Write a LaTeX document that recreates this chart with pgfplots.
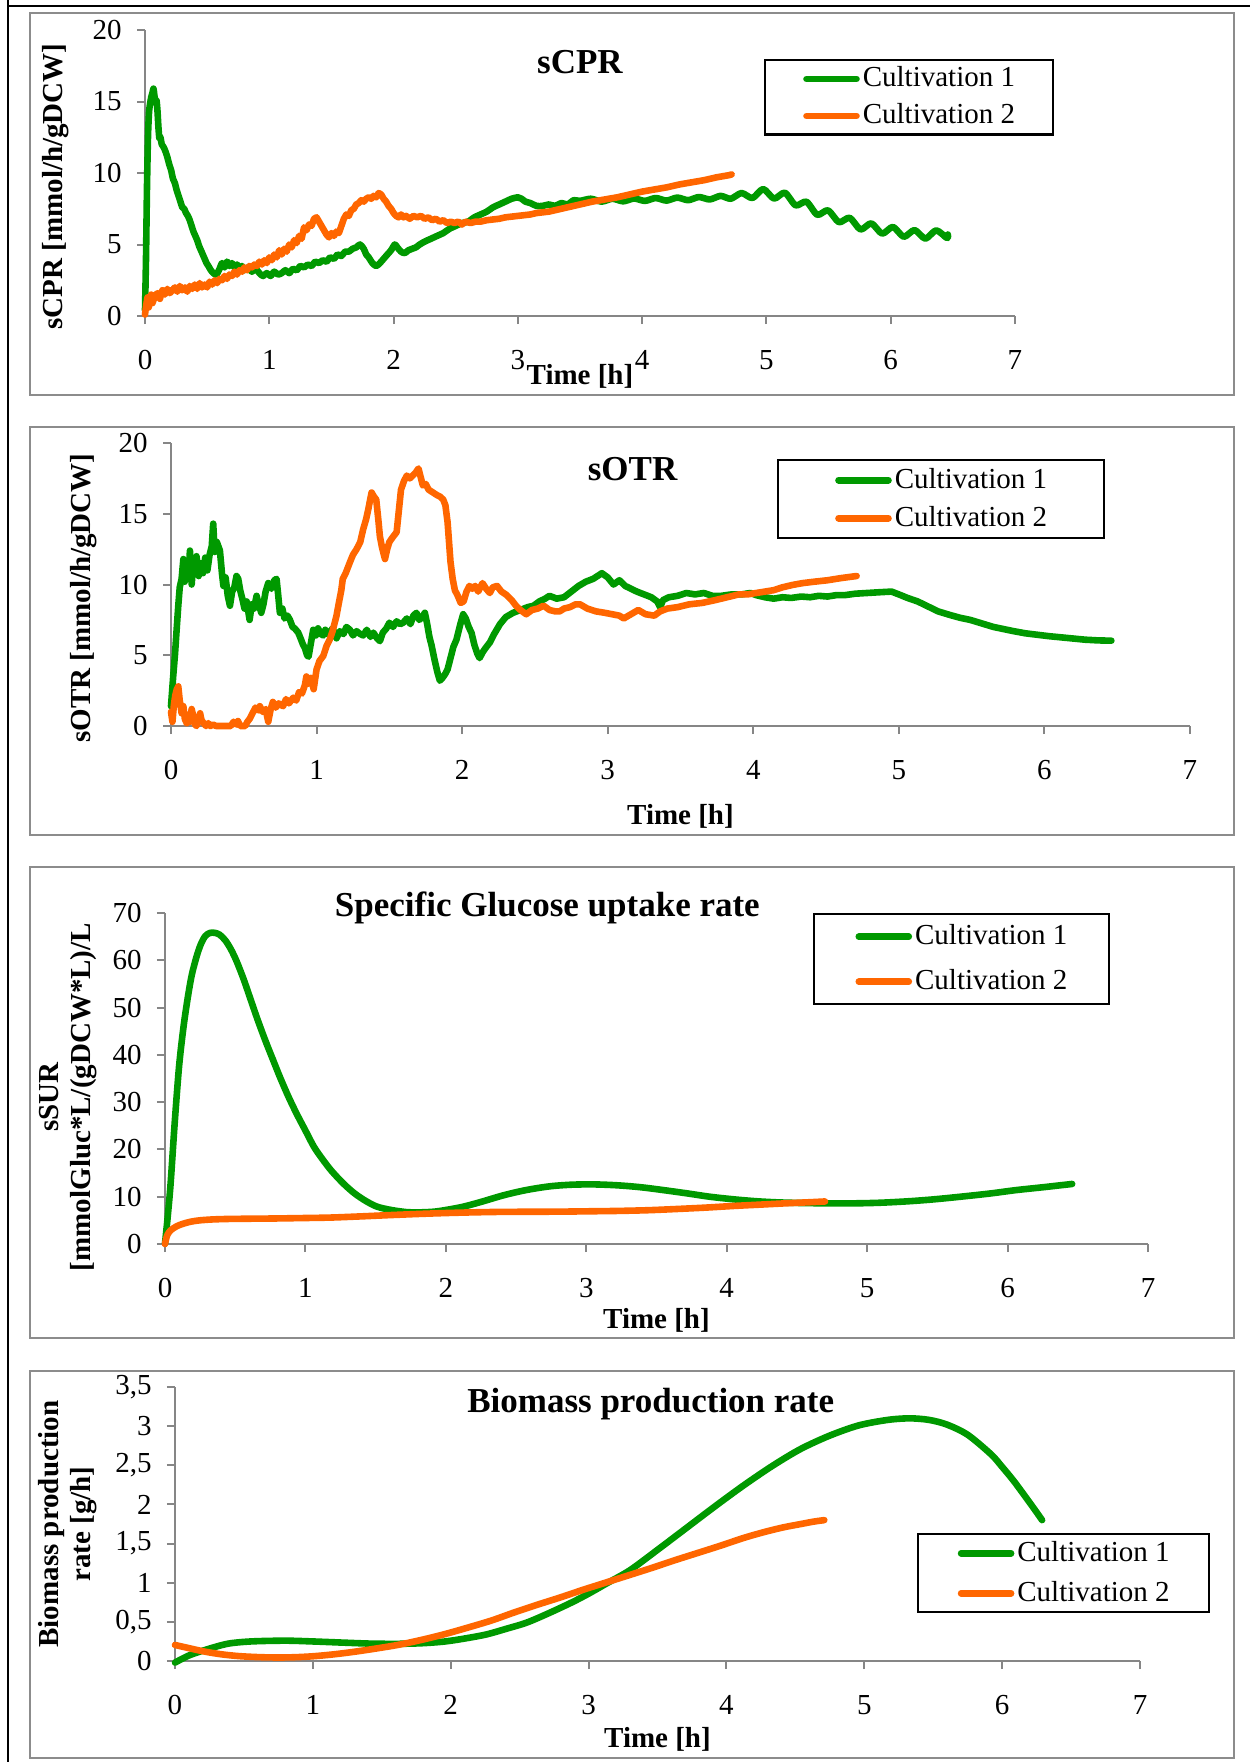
\documentclass[border=0pt]{standalone}
\usepackage{fontspec}
\setmainfont{Liberation Serif}
\usepackage{pgfplots}
\usepackage{pgfplotstable}
\pgfplotsset{compat=1.18}

\definecolor{cgreen}{RGB}{0,153,0}
\definecolor{corange}{RGB}{255,102,0}
\definecolor{axgray}{RGB}{134,134,134}
\definecolor{framegray}{RGB}{140,140,140}

\newcommand\tickfont{\fontsize{14.5bp}{17bp}\selectfont}
\newcommand\labfont{\fontsize{14.5bp}{16bp}\selectfont\bfseries}
\newcommand\ttlfont{\fontsize{17.5bp}{20bp}\selectfont\bfseries}

% ---------- sCPR ----------
\pgfplotstableread{
t v
0.000 0.4
0.008 4.0
0.016 9.0
0.024 12.5
0.032 14.2
0.040 14.8
0.050 15.3
0.060 15.6
0.068 15.9
0.076 15.4
0.084 14.9
0.092 15.1
0.100 14.4
0.108 13.2
0.116 12.4
0.124 12.5
0.135 12.0
0.150 11.8
0.165 11.5
0.180 11.1
0.195 10.6
0.210 10.2
0.225 9.6
0.240 9.3
0.255 8.8
0.270 8.4
0.285 8.0
0.300 7.6
0.315 7.5
0.330 7.2
0.345 7.0
0.360 6.7
0.375 6.3
0.390 5.9
0.405 5.6
0.420 5.3
0.435 4.9
0.450 4.6
0.465 4.3
0.480 4.0
0.495 3.7
0.510 3.5
0.530 3.2
0.550 3.0
0.575 2.9
0.600 3.3
0.620 3.7
0.640 3.4
0.660 3.8
0.680 3.5
0.700 3.7
0.720 3.4
0.740 3.6
0.760 3.3
0.780 3.5
0.800 3.2
0.830 3.4
0.860 3.1
0.890 3.3
0.920 3.0
0.950 2.8
0.980 3.0
1.010 2.8
1.040 3.1
1.070 2.9
1.100 3.0
1.130 3.2
1.160 3.0
1.190 3.3
1.220 3.2
1.250 3.5
1.280 3.4
1.310 3.6
1.340 3.5
1.370 3.8
1.400 3.7
1.430 3.9
1.460 3.8
1.490 4.1
1.520 4.0
1.550 4.3
1.580 4.2
1.610 4.5
1.640 4.5
1.670 4.7
1.700 4.8
1.730 5.0
1.760 4.7
1.780 4.3
1.800 4.1
1.830 3.7
1.860 3.5
1.890 3.7
1.920 4.0
1.950 4.3
1.980 4.6
2.010 5.0
2.030 4.8
2.060 4.5
2.090 4.4
2.120 4.6
2.150 4.7
2.180 4.8
2.210 5.0
2.250 5.2
2.300 5.4
2.350 5.6
2.400 5.8
2.450 6.1
2.500 6.3
2.550 6.5
2.600 6.6
2.650 6.9
2.700 7.1
2.750 7.3
2.800 7.6
2.850 7.8
2.900 8.0
2.950 8.2
3.000 8.3
3.030 8.2
3.060 8.0
3.100 7.9
3.150 7.7
3.200 7.7
3.250 7.8
3.300 7.7
3.350 7.9
3.400 7.8
3.450 8.1
3.500 8.05
3.587 8.2
3.674 8.0
3.761 8.2
3.848 8.02
3.935 8.22
4.022 8.05
4.109 8.25
4.196 8.07
4.283 8.28
4.370 8.1
4.457 8.32
4.544 8.15
4.631 8.4
4.713 8.20
4.800 8.60
4.887 8.25
4.974 8.88
5.061 8.21
5.148 8.62
5.235 7.74
5.322 7.99
5.409 7.08
5.496 7.39
5.583 6.56
5.670 6.87
5.757 6.05
5.844 6.48
5.931 5.76
6.018 6.23
6.105 5.54
6.192 6.01
6.279 5.41
6.366 5.99
6.453 5.45
6.460 5.70
}\cprA

\pgfplotstableread{
t v
0.000 0.1
0.010 0.8
0.020 1.3
0.030 0.6
0.040 1.2
0.050 1.5
0.060 0.9
0.080 1.4
0.100 1.6
0.120 1.2
0.140 1.8
0.160 1.5
0.180 1.9
0.200 1.6
0.220 1.8
0.240 2.0
0.260 1.7
0.280 2.1
0.300 1.8
0.320 2.0
0.340 1.7
0.360 2.1
0.380 1.9
0.400 2.2
0.420 1.9
0.440 2.3
0.460 2.0
0.480 2.2
0.500 2.0
0.520 2.4
0.540 2.2
0.560 2.5
0.580 2.3
0.600 2.6
0.620 2.5
0.640 2.8
0.660 2.6
0.680 2.9
0.700 2.8
0.720 3.1
0.740 2.9
0.760 3.2
0.780 3.1
0.800 3.4
0.820 3.2
0.840 3.5
0.860 3.4
0.880 3.6
0.900 3.5
0.920 3.8
0.940 3.6
0.960 3.9
0.980 3.7
1.000 4.1
1.020 3.9
1.040 4.3
1.060 4.1
1.080 4.6
1.100 4.3
1.120 4.7
1.140 4.5
1.160 5.0
1.180 4.8
1.200 5.3
1.220 5.1
1.240 5.6
1.260 5.4
1.280 6.2
1.300 6.0
1.320 6.4
1.340 6.3
1.360 6.8
1.380 6.9
1.400 6.6
1.420 6.3
1.440 6.0
1.460 5.7
1.480 5.5
1.500 5.8
1.520 5.6
1.540 5.9
1.560 5.8
1.580 6.3
1.600 6.8
1.620 7.1
1.640 7.0
1.660 7.4
1.680 7.5
1.700 7.8
1.720 7.9
1.740 8.1
1.760 8.0
1.780 8.2
1.800 8.3
1.820 8.2
1.840 8.4
1.860 8.3
1.880 8.6
1.900 8.5
1.920 8.2
1.940 8.0
1.960 7.7
1.980 7.5
2.000 7.2
2.020 7.0
2.040 6.9
2.060 7.1
2.080 6.9
2.100 7.0
2.130 6.8
2.160 7.0
2.190 6.9
2.220 7.0
2.250 6.8
2.280 6.9
2.310 6.7
2.340 6.8
2.370 6.6
2.400 6.7
2.430 6.5
2.460 6.6
2.490 6.5
2.520 6.6
2.550 6.4
2.580 6.6
2.620 6.5
2.660 6.6
2.700 6.6
2.750 6.7
2.800 6.75
2.850 6.8
2.900 6.9
2.950 6.95
3.000 7.0
3.050 7.05
3.100 7.1
3.150 7.2
3.200 7.25
3.250 7.3
3.300 7.4
3.400 7.6
3.500 7.8
3.600 8.0
3.700 8.15
3.800 8.3
3.900 8.5
4.000 8.7
4.100 8.85
4.200 9.0
4.300 9.2
4.400 9.35
4.500 9.5
4.600 9.7
4.700 9.85
4.720 9.9
}\cprB

% ---------- sOTR ----------
\pgfplotstableread{
t v
0.000 1.4
0.015 3.5
0.027 5.0
0.040 7.0
0.050 8.5
0.060 9.8
0.073 10.4
0.085 11.8
0.095 10.2
0.108 11.5
0.120 10.5
0.130 12.4
0.142 10.0
0.155 11.8
0.165 10.8
0.175 12.0
0.190 10.6
0.205 11.5
0.220 10.8
0.235 11.9
0.250 11.0
0.265 12.1
0.280 12.7
0.290 14.3
0.300 12.3
0.315 13.0
0.336 12.4
0.350 10.8
0.360 9.9
0.375 10.5
0.390 9.2
0.405 8.5
0.420 9.5
0.435 9.8
0.450 10.6
0.462 10.4
0.475 9.6
0.490 9.0
0.505 8.3
0.520 8.8
0.540 7.5
0.555 8.6
0.570 8.3
0.588 9.2
0.600 8.7
0.620 8.0
0.635 8.6
0.650 9.5
0.668 10.1
0.690 9.7
0.710 10.3
0.725 10.4
0.735 9.4
0.748 8.0
0.765 8.3
0.780 7.6
0.800 7.8
0.817 7.5
0.835 7.0
0.850 6.9
0.874 6.6
0.890 6.2
0.905 5.8
0.920 5.5
0.935 5.0
0.945 4.9
0.960 5.8
0.977 6.8
0.995 6.4
1.010 6.9
1.030 6.5
1.046 6.4
1.060 6.8
1.075 6.5
1.090 6.6
1.110 6.9
1.137 6.2
1.160 6.7
1.185 6.5
1.205 7.0
1.229 6.8
1.250 6.4
1.275 6.7
1.300 6.5
1.320 6.4
1.345 6.8
1.370 6.3
1.390 6.6
1.415 6.2
1.435 6.0
1.455 6.6
1.480 6.9
1.500 7.3
1.525 7.0
1.550 7.4
1.575 7.2
1.595 7.3
1.620 7.6
1.645 7.2
1.665 7.8
1.686 8.0
1.705 7.5
1.725 7.7
1.744 8.0
1.760 7.2
1.775 6.3
1.790 5.7
1.810 4.7
1.830 3.8
1.847 3.2
1.865 3.4
1.885 3.7
1.900 4.0
1.920 4.8
1.940 5.6
1.961 6.1
1.985 7.1
2.007 7.9
2.025 7.6
2.045 7.0
2.064 6.6
2.085 5.7
2.105 5.1
2.120 4.8
2.140 5.2
2.160 5.5
2.190 5.9
2.220 6.5
2.260 7.2
2.300 7.7
2.350 8.0
2.400 8.2
2.450 8.4
2.490 8.5
2.530 8.8
2.570 9.0
2.600 9.2
2.650 9.0
2.700 9.1
2.750 9.5
2.800 9.9
2.850 10.2
2.900 10.4
2.960 10.8
3.000 10.5
3.040 10.0
3.080 10.3
3.120 9.9
3.160 9.7
3.200 9.5
3.250 9.3
3.300 9.1
3.340 8.8
3.360 8.4
3.380 8.9
3.420 9.1
3.480 9.2
3.540 9.4
3.600 9.3
3.660 9.4
3.720 9.2
3.780 9.2
3.850 9.3
3.920 9.3
3.980 9.4
4.020 9.25
4.080 9.1
4.140 9.0
4.200 9.1
4.260 9.05
4.330 9.15
4.390 9.1
4.450 9.2
4.510 9.15
4.570 9.25
4.630 9.25
4.700 9.35
4.780 9.4
4.860 9.45
4.950 9.5
5.000 9.3
5.060 9.05
5.130 8.8
5.200 8.45
5.270 8.1
5.350 7.85
5.420 7.65
5.490 7.5
5.570 7.25
5.650 7.0
5.720 6.85
5.790 6.7
5.870 6.55
5.950 6.45
6.030 6.35
6.110 6.27
6.200 6.18
6.280 6.1
6.370 6.05
6.460 6.03
}\otrA

\pgfplotstableread{
t v
0.000 1.0
0.010 0.3
0.020 1.5
0.030 2.2
0.040 2.6
0.050 2.8
0.060 1.8
0.073 0.9
0.085 1.4
0.095 0.5
0.108 0.2
0.118 0.8
0.130 0.3
0.142 1.2
0.155 0.6
0.165 0.1
0.176 0.0
0.190 0.5
0.200 0.9
0.210 0.4
0.225 0.2
0.240 0.0
0.256 0.2
0.270 0.0
0.290 0.1
0.310 0.0
0.330 0.0
0.350 0.0
0.370 0.0
0.390 0.0
0.410 0.0
0.430 0.3
0.450 0.1
0.460 0.35
0.475 0.0
0.490 0.0
0.510 0.0
0.525 0.3
0.540 0.5
0.560 0.9
0.580 1.3
0.600 1.1
0.610 1.4
0.630 1.0
0.650 1.2
0.668 0.3
0.685 1.2
0.700 1.7
0.720 1.3
0.740 1.6
0.770 1.4
0.790 1.9
0.810 1.6
0.840 2.0
0.860 1.8
0.880 2.4
0.900 2.3
0.920 2.9
0.930 3.5
0.945 3.0
0.960 3.4
0.980 2.6
1.000 4.0
1.020 4.6
1.046 4.95
1.070 5.7
1.090 6.1
1.110 6.7
1.137 7.8
1.155 8.8
1.170 9.6
1.180 10.4
1.200 10.8
1.230 11.6
1.250 12.1
1.275 12.5
1.300 13.0
1.320 13.9
1.340 14.6
1.355 15.3
1.370 16.1
1.378 16.5
1.395 16.2
1.410 16.0
1.425 14.5
1.435 13.4
1.450 12.6
1.470 11.8
1.485 12.5
1.500 13.0
1.520 13.3
1.550 13.7
1.565 15.2
1.580 16.7
1.600 17.3
1.620 17.7
1.640 17.5
1.660 17.7
1.680 17.9
1.700 18.2
1.715 17.6
1.730 17.0
1.750 17.1
1.770 16.7
1.800 16.5
1.830 16.3
1.850 16.2
1.870 16.0
1.885 15.6
1.900 14.4
1.910 13.0
1.920 11.6
1.935 10.4
1.950 9.6
1.970 9.2
1.990 8.7
2.010 8.8
2.030 9.5
2.050 9.9
2.070 9.7
2.090 9.9
2.110 9.5
2.130 9.9
2.140 10.1
2.165 9.7
2.190 9.4
2.210 9.8
2.240 9.9
2.270 9.5
2.300 9.3
2.340 8.9
2.370 8.5
2.400 8.2
2.440 7.9
2.480 8.2
2.520 8.3
2.560 8.5
2.600 8.2
2.640 8.1
2.670 8.1
2.700 8.3
2.740 8.4
2.780 8.6
2.810 8.6
2.860 8.3
2.920 8.1
2.980 8.0
3.030 7.9
3.080 7.8
3.110 7.6
3.160 7.9
3.210 8.2
3.260 7.9
3.320 7.8
3.360 8.1
3.410 8.3
3.480 8.4
3.560 8.6
3.650 8.7
3.740 8.9
3.820 9.1
3.900 9.3
3.960 9.3
4.020 9.4
4.080 9.5
4.140 9.6
4.200 9.8
4.270 9.97
4.340 10.1
4.420 10.2
4.510 10.3
4.600 10.45
4.710 10.6
}\otrB

% ---------- sSUR ----------
\pgfplotstableread{
t v
0.000 0.1
0.020 6.0
0.040 12.8
0.070 26.0
0.100 37.5
0.130 45.5
0.160 51.7
0.190 56.8
0.225 60.8
0.255 63.4
0.286 65.1
0.320 65.8
0.356 65.8
0.390 65.4
0.430 64.2
0.470 62.3
0.510 59.8
0.560 56.0
0.610 51.7
0.660 47.4
0.715 43.0
0.770 38.9
0.820 35.2
0.880 31.1
0.940 27.4
1.000 24.0
1.060 20.6
1.120 18.0
1.185 15.5
1.270 12.8
1.350 10.7
1.430 9.1
1.510 7.9
1.610 7.2
1.720 6.75
1.820 6.7
1.920 6.85
2.020 7.3
2.125 7.9
2.250 8.9
2.410 10.3
2.570 11.4
2.740 12.2
2.900 12.55
3.065 12.6
3.230 12.4
3.390 12.0
3.550 11.4
3.720 10.7
3.880 10.0
4.050 9.45
4.210 9.05
4.370 8.8
4.570 8.65
4.780 8.6
4.950 8.62
5.110 8.75
5.300 9.05
5.480 9.46
5.680 10.05
5.880 10.7
6.060 11.4
6.250 12.0
6.460 12.7
}\surA

\pgfplotstableread{
t v
0.000 0.0
0.015 1.8
0.040 2.9
0.080 3.7
0.120 4.2
0.180 4.7
0.245 5.0
0.340 5.2
0.450 5.3
0.600 5.35
0.780 5.4
1.000 5.5
1.185 5.6
1.400 5.85
1.590 6.1
1.800 6.35
2.000 6.55
2.200 6.7
2.410 6.8
2.620 6.82
2.820 6.85
3.020 6.92
3.230 7.0
3.440 7.15
3.640 7.4
3.850 7.7
4.050 8.05
4.250 8.35
4.450 8.65
4.600 8.85
4.700 9.0
}\surB

% ---------- biomass ----------
\pgfplotstableread{
t v
0.000 -0.02
0.100 0.07
0.216 0.14
0.380 0.22
0.550 0.25
0.800 0.26
1.000 0.25
1.220 0.235
1.430 0.222
1.630 0.22
1.800 0.228
1.960 0.25
2.110 0.29
2.260 0.34
2.400 0.41
2.550 0.49
2.710 0.61
2.880 0.75
3.000 0.86
3.130 0.99
3.300 1.16
3.500 1.42
3.710 1.70
3.920 1.98
4.130 2.25
4.340 2.50
4.540 2.71
4.750 2.88
4.960 3.01
5.170 3.08
5.330 3.10
5.470 3.08
5.600 3.02
5.750 2.89
5.920 2.64
6.000 2.48
6.080 2.31
6.160 2.12
6.230 1.95
6.290 1.80
}\bioA

\pgfplotstableread{
t v
0.000 0.205
0.100 0.165
0.216 0.12
0.340 0.085
0.470 0.062
0.620 0.049
0.760 0.045
0.890 0.050
1.010 0.062
1.150 0.085
1.300 0.118
1.460 0.160
1.630 0.21
1.800 0.275
1.960 0.345
2.130 0.43
2.300 0.52
2.460 0.62
2.630 0.72
2.800 0.815
2.960 0.91
3.130 1.005
3.300 1.10
3.460 1.19
3.630 1.29
3.800 1.385
3.960 1.475
4.130 1.575
4.290 1.655
4.420 1.71
4.540 1.75
4.630 1.78
4.710 1.80
}\bioB

\pgfplotsset{
  panel/.style={
    scale only axis,
    anchor=south west,
    axis lines*=left,
    axis line style={draw=axgray, line width=1bp},
    tick style={draw=axgray, line width=1bp},
    major tick length=4bp,
    tick align=outside,
    xmin=0, xmax=7, xtick={0,1,...,7},
    ymin=0,
    enlargelimits=false,
    clip=false,
    /pgf/number format/assume math mode=true,
    ticklabel style={font=\tickfont, text=black},
    xticklabel style={anchor=center, inner sep=0pt, yshift=-18bp},
    yticklabel style={anchor=east, inner sep=0pt, xshift=-7.5bp},
    label style={font=\labfont},
    xlabel={Time [h]},
    every axis title/.style={font=\ttlfont, anchor=center},
    legend style={draw=black, line width=1.2bp, fill=white,
      font=\fontsize{14.5bp}{16bp}\selectfont,
      nodes={inner sep=0pt, text height=10.5bp, text depth=2.5bp},
      anchor=north west, column sep=1.5bp},
    legend cell align=left,
    legend image code/.code={\draw[#1, line width=3.3bp, line cap=round] (1.5bp,0bp) -- (26.5bp,0bp);},
    every axis plot/.append style={line width=3.3bp, line join=round, line cap=round, mark=none},
  },
  c1/.style={color=cgreen},
  c2/.style={color=corange},
}

\begin{document}
\begin{tikzpicture}
\useasboundingbox (0bp,0bp) rectangle (625bp,-881bp);

% outer frame lines
\draw[black, line width=1.3bp] (4bp,0bp) -- (4bp,-3bp) -- (625bp,-3bp);
\draw[black, line width=1.3bp] (4bp,-3bp) -- (4bp,-881bp);

% panel frames
\draw[framegray, line width=1bp] (15bp,-6.5bp) rectangle (617bp,-197.5bp);
\draw[framegray, line width=1bp] (15bp,-213.5bp) rectangle (617bp,-417.5bp);
\draw[framegray, line width=1bp] (15bp,-433.5bp) rectangle (617bp,-669bp);
\draw[framegray, line width=1bp] (15bp,-685.5bp) rectangle (617bp,-879bp);

% sCPR
\begin{axis}[panel,
  at={(72.5bp,-158bp)}, width=435bp, height=143bp,
  ymax=20, ytick={0,5,10,15,20},
  ylabel={sCPR [mmol/h/gDCW]},
  ylabel style={at={(axis description cs:-0.1023,0.4528)}, anchor=center},
  xlabel style={at={(axis description cs:0.5,-0.21)}, anchor=center},
  title={sCPR}, title style={at={(axis description cs:0.5,0.888)}},
  legend style={at={(axis description cs:0.7115,0.8986)}, inner xsep=19bp, inner ysep=2.85bp, row sep=5.5bp},
]
\addplot[c1, smooth, tension=0.45] table[x=t, y=v] {\cprA};
\addplot[c2] table[x=t, y=v] {\cprB};
\legend{Cultivation 1, Cultivation 2}
\end{axis}

% sOTR
\begin{axis}[panel,
  at={(85.5bp,-363bp)}, width=509.5bp, height=141.5bp,
  ymax=20, ytick={0,5,10,15,20},
  ylabel={sOTR [mmol/h/gDCW]},
  ylabel style={at={(axis description cs:-0.0854,0.452)}, anchor=center},
  xlabel style={at={(axis description cs:0.5,-0.318)}, anchor=center},
  title={sOTR}, title style={at={(axis description cs:0.453,0.908)}},
  legend style={at={(axis description cs:0.5947,0.9435)}, inner xsep=28.5bp, inner ysep=3.5bp, row sep=6bp},
]
\addplot[c1] table[x=t, y=v] {\otrA};
\addplot[c2] table[x=t, y=v] {\otrB};
\legend{Cultivation 1, Cultivation 2}
\end{axis}

% sSUR
\begin{axis}[panel,
  at={(82.5bp,-622bp)}, width=491.5bp, height=165.5bp,
  ymax=70, ytick={0,10,...,70},
  ylabel={sSUR\\\relax[mmolGluc*L/(gDCW*L)/L},
  ylabel style={at={(axis description cs:-0.0987,0.444)}, anchor=center, align=center},
  xlabel style={at={(axis description cs:0.5,-0.2296)}, anchor=center},
  title={Specific Glucose uptake rate}, title style={at={(axis description cs:0.389,1.015)}},
  legend style={at={(axis description cs:0.659,1.0)}, inner xsep=20.75bp, inner ysep=4.75bp, row sep=9.5bp},
]
\addplot[c1, smooth] table[x=t, y=v] {\surA};
\addplot[c2, smooth] table[x=t, y=v] {\surB};
\legend{Cultivation 1, Cultivation 2}
\end{axis}

% biomass production rate
\begin{axis}[panel,
  at={(87.5bp,-830.5bp)}, width=482.5bp, height=137bp,
  ymax=3.5, ytick={0,0.5,...,3.5},
  yticklabels={0,{0,5},1,{1,5},2,{2,5},3,{3,5}},
  ylabel={Biomass production\\rate [g/h]},
  ylabel style={at={(axis description cs:-0.1109,0.5)}, anchor=center, align=center},
  xlabel style={at={(axis description cs:0.5,-0.2847)}, anchor=center},
  title={Biomass production rate}, title style={at={(axis description cs:0.493,0.938)}},
  legend style={at={(axis description cs:0.769,0.467)}, inner xsep=19.75bp, inner ysep=3bp, row sep=7bp},
]
\addplot[c1, smooth] table[x=t, y=v] {\bioA};
\addplot[c2, smooth] table[x=t, y=v] {\bioB};
\legend{Cultivation 1, Cultivation 2}
\end{axis}
\end{tikzpicture}
\end{document}
